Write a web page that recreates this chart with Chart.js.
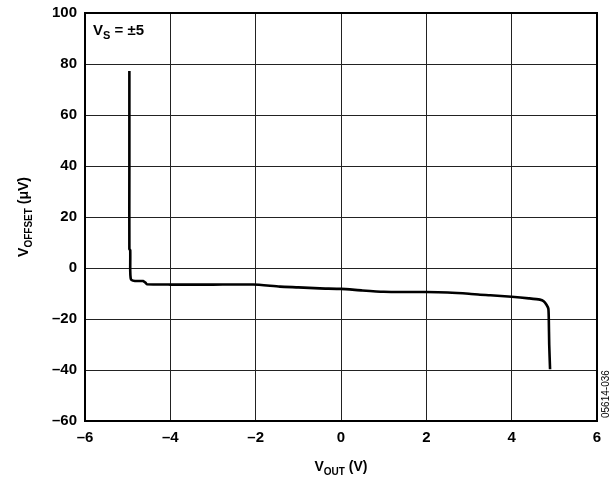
<!DOCTYPE html>
<html><head><meta charset="utf-8">
<script src="https://cdn.jsdelivr.net/npm/chart.js@4/dist/chart.umd.min.js"></script>
<style>html,body{margin:0;padding:0;background:#fff}#wrap{width:614px;height:481px;position:relative}</style>
</head><body><div id="wrap"><canvas id="c" width="614" height="481"></canvas></div>
<script>
const vout = [-4.96,-4.96,-4.96,-4.94,-4.94,-4.93,-4.91,-4.83,-4.7,-4.64,-4.58,-4.55,-4.0,-3.0,-2.06,-1.43,-1.0,-0.5,0,0.5,1,1.5,2,2.5,3,3.26,3.5,4,4.4,4.66,4.75,4.82,4.86,4.87,4.88,4.9];
const offset = [77.3,40,7.5,7,-1,-4,-4.7,-5.1,-5.1,-5.1,-5.8,-6.4,-6.5,-6.5,-6.5,-7.3,-7.6,-8,-8.2,-8.8,-9.3,-9.4,-9.4,-9.6,-10.1,-10.5,-10.7,-11.3,-11.9,-12.4,-13,-14.5,-16,-20,-30,-39.7];
const xTicks = [-6,-4,-2,0,2,4,6];
const yTicks = [-60,-40,-20,0,20,40,60,80,100];

const FONT = '"Liberation Sans", Arial, sans-serif';
function fmt(v){ return String(v).replace('-', '\u2013'); }

function drawSub(ctx, parts, x, y, align, big){
  big = big || 14;
  let w = 0;
  parts.forEach(p => { ctx.font = 'bold ' + (p.sub ? Math.round(big*0.72) : big) + 'px ' + FONT; w += ctx.measureText(p.t).width; });
  let cx = align === 'center' ? x - w/2 : x;
  parts.forEach(p => {
    ctx.font = 'bold ' + (p.sub ? Math.round(big*0.72) : big) + 'px ' + FONT;
    ctx.fillText(p.t, cx, y + (p.sub ? 4 : 0));
    cx += ctx.measureText(p.t).width;
  });
}

const deco = {
  id: 'deco',
  afterDraw(chart){
    const ctx = chart.ctx, a = chart.chartArea;
    ctx.save();
    ctx.strokeStyle = '#000'; ctx.lineWidth = 2;
    ctx.strokeRect(a.left, a.top, a.right - a.left, a.bottom - a.top);
    ctx.fillStyle = '#000'; ctx.textBaseline = 'alphabetic'; ctx.textAlign = 'left';
    drawSub(ctx, [{t:'V'},{t:'OUT',sub:true},{t:' (V)'}], (a.left + a.right)/2, 471, 'center', 14);
    ctx.save();
    ctx.translate(28, (a.top + a.bottom)/2);
    ctx.rotate(-Math.PI/2);
    drawSub(ctx, [{t:'V'},{t:'OFFSET',sub:true},{t:' (\u03bcV)'}], 0, 0, 'center', 14);
    ctx.restore();
    drawSub(ctx, [{t:'V'},{t:'S',sub:true},{t:' = \u00b15'}], 93, 35, 'left', 15);
    ctx.save();
    ctx.translate(609, 418);
    ctx.rotate(-Math.PI/2);
    ctx.font = '10px ' + FONT;
    ctx.fillText('05614-036', 0, 0);
    ctx.restore();
    ctx.restore();
  }
};

new Chart(document.getElementById('c'), {
  type: 'scatter',
  data: { datasets: [{
    data: vout.map((x, i) => ({x, y: offset[i]})),
    showLine: true, borderColor: '#000', borderWidth: 2.6, pointRadius: 0, tension: 0.2, fill: false
  }]},
  options: {
    responsive: false, animation: false, devicePixelRatio: 1,
    layout: { padding: { top: 13, right: 17, left: 0, bottom: 0 } },
    plugins: { legend: { display: false }, tooltip: { enabled: false } },
    scales: {
      x: {
        type: 'linear', min: -6, max: 6,
        afterBuildTicks: s => { s.ticks = xTicks.map(v => ({value: v})); },
        afterFit: s => { s.height = 60; },
        grid: { color: '#222', lineWidth: 1, drawTicks: false },
        border: { display: false },
        ticks: { color: '#000', padding: 8, maxRotation: 0, font: { family: FONT, size: 15, weight: 'bold' }, callback: v => fmt(v) }
      },
      y: {
        type: 'linear', min: -60, max: 100,
        afterBuildTicks: s => { s.ticks = yTicks.map(v => ({value: v})); },
        afterFit: s => { s.width = 85; },
        grid: { color: '#222', lineWidth: 1, drawTicks: false },
        border: { display: false },
        ticks: { color: '#000', padding: 8, font: { family: FONT, size: 15, weight: 'bold', lineHeight: 0.5 }, callback: v => fmt(v) }
      }
    }
  },
  plugins: [deco]
});
</script></body></html>
